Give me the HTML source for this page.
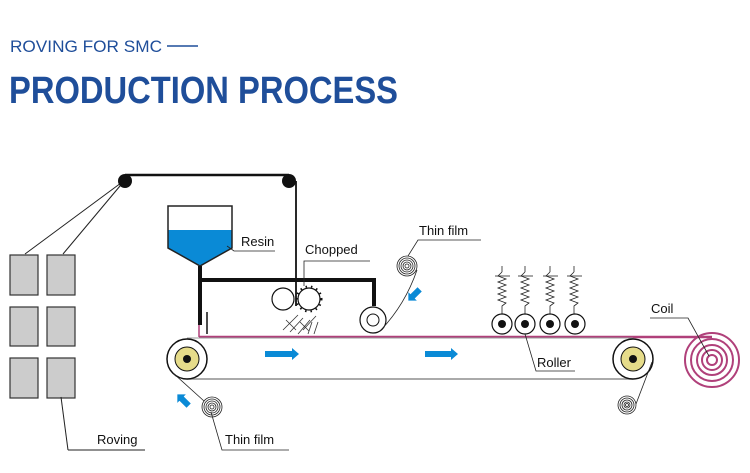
<!DOCTYPE html>
<html><head><meta charset="utf-8"><style>body{margin:0;background:#fff}svg{display:block}</style></head><body>
<svg width="750" height="473" viewBox="0 0 750 473" xmlns="http://www.w3.org/2000/svg" font-family="Liberation Sans, sans-serif">
<text x="10" y="52" font-size="17" fill="#1f4e9a" textLength="152" lengthAdjust="spacingAndGlyphs">ROVING FOR SMC</text>
<line x1="167" y1="46" x2="198" y2="46" stroke="#1f4e9a" stroke-width="1.5"/>
<text x="9" y="103" font-size="38" font-weight="bold" fill="#1f4e9a" textLength="389" lengthAdjust="spacingAndGlyphs">PRODUCTION PROCESS</text>

<g fill="#ccc" stroke="#333" stroke-width="1.2">
<rect x="10" y="255" width="28" height="40"/><rect x="47" y="255" width="28" height="40"/>
<rect x="10" y="307" width="28" height="39"/><rect x="47" y="307" width="28" height="39"/>
<rect x="10" y="358" width="28" height="40"/><rect x="47" y="358" width="28" height="40"/>
</g>
<g stroke="#222" fill="none" stroke-width="1">
<line x1="125" y1="180" x2="25" y2="254"/><line x1="125" y1="180" x2="63" y2="254"/>
<line x1="61" y1="397" x2="68" y2="450"/><line x1="68" y1="450" x2="145" y2="450"/>
</g>
<line x1="125" y1="175" x2="289" y2="175" stroke="#111" stroke-width="2.5"/>
<circle cx="125" cy="181" r="7" fill="#111"/><circle cx="289" cy="181" r="7" fill="#111"/>
<line x1="296" y1="181" x2="296" y2="306" stroke="#111" stroke-width="1.8"/>

<path d="M168,230 L232,230 L232,248 L200,266 L168,248 Z" fill="#0a8ad6"/>
<path d="M168,206 L232,206 L232,248 L200,266 L168,248 Z" fill="none" stroke="#222" stroke-width="1.5"/>
<polyline points="227,246 234,251 275,251" fill="none" stroke="#222" stroke-width="0.8"/>
<text x="241" y="246" font-size="13" fill="#111">Resin</text>

<line x1="200" y1="266" x2="200" y2="325" stroke="#111" stroke-width="4"/>
<polyline points="200,280 374,280 374,306" fill="none" stroke="#111" stroke-width="4"/>
<line x1="207" y1="312" x2="207" y2="334" stroke="#111" stroke-width="1.5"/>

<text x="305" y="254" font-size="13" fill="#111">Chopped</text>
<polyline points="370,261 304,261 304,286" fill="none" stroke="#222" stroke-width="0.8"/>
<circle cx="283" cy="299" r="11" fill="#fff" stroke="#111" stroke-width="1.2"/>
<circle cx="309" cy="299" r="11" fill="#fff" stroke="#111" stroke-width="1.2"/>
<g stroke="#111" stroke-width="2" stroke-dasharray="1.5 4" fill="none"><circle cx="309" cy="299" r="12.5"/></g>
<g stroke="#333" stroke-width="0.8">
<line x1="283" y1="330" x2="298" y2="315"/><line x1="290" y1="332" x2="303" y2="318"/><line x1="298" y1="334" x2="310" y2="320"/>
<line x1="303" y1="330" x2="316" y2="316"/><line x1="308" y1="334" x2="312" y2="322"/><line x1="314" y1="334" x2="318" y2="322"/>
<line x1="286" y1="320" x2="296" y2="330"/><line x1="300" y1="322" x2="309" y2="331"/>
</g>

<circle cx="373" cy="320" r="13" fill="#fff" stroke="#111" stroke-width="1.2"/>
<circle cx="373" cy="320" r="6" fill="none" stroke="#111"/>
<g fill="none" stroke="#222" stroke-width="0.8">
<circle cx="407" cy="266" r="10"/><circle cx="407" cy="266" r="8"/><circle cx="407" cy="266" r="6"/><circle cx="407" cy="266" r="4"/><circle cx="407" cy="266" r="2"/>
<path d="M417,270 Q405,305 380,331"/>
<polyline points="408,256 418,240 481,240"/>
</g>
<text x="419" y="235" font-size="13" fill="#111">Thin film</text>
<g transform="translate(414,295) rotate(135)"><polygon points="-8,-3 2,-3 2,-6 8,0 2,6 2,3 -8,3" fill="#0a8ad6"/></g>

<line x1="199" y1="325" x2="199" y2="337" stroke="#b0407a" stroke-width="1.5"/>
<line x1="199" y1="337" x2="712" y2="337" stroke="#b0407a" stroke-width="2.5"/>

<line x1="187" y1="338" x2="633" y2="338" stroke="#999" stroke-width="1"/>
<line x1="187" y1="379" x2="633" y2="379" stroke="#777" stroke-width="1.2"/>
<g>
<circle cx="187" cy="359" r="20" fill="#fff" stroke="#111" stroke-width="1.5"/>
<circle cx="187" cy="359" r="12" fill="#e6dc8a" stroke="#111"/>
<circle cx="187" cy="359" r="4" fill="#111"/>
<circle cx="633" cy="359" r="20" fill="#fff" stroke="#111" stroke-width="1.5"/>
<circle cx="633" cy="359" r="12" fill="#e6dc8a" stroke="#111"/>
<circle cx="633" cy="359" r="4" fill="#111"/>
</g>

<polygon points="265,351 292,351 292,348 299,354 292,360 292,357 265,357" fill="#0a8ad6"/>
<polygon points="425,351 451,351 451,348 458,354 451,360 451,357 425,357" fill="#0a8ad6"/>
<g transform="translate(183,400) rotate(-135)"><polygon points="-8,-3 2,-3 2,-6 8,0 2,6 2,3 -8,3" fill="#0a8ad6"/></g>

<g fill="none" stroke="#222" stroke-width="0.8">
<circle cx="212" cy="407" r="10"/><circle cx="212" cy="407" r="8"/><circle cx="212" cy="407" r="6"/><circle cx="212" cy="407" r="4"/><circle cx="212" cy="407" r="2"/>
<line x1="173" y1="373" x2="204" y2="401"/>
<polyline points="211,412 222,450 289,450"/>
<circle cx="627" cy="405" r="9"/><circle cx="627" cy="405" r="7"/><circle cx="627" cy="405" r="5"/><circle cx="627" cy="405" r="3"/><circle cx="627" cy="405" r="1.5"/>
<line x1="652" y1="362" x2="636" y2="404"/>
</g>
<text x="97" y="444" font-size="13" fill="#111">Roving</text>
<text x="225" y="444" font-size="13" fill="#111">Thin film</text>

<g fill="none" stroke="#222" stroke-width="0.8">
<g id="sp">
<line x1="495" y1="276" x2="510" y2="276"/>
<line x1="502" y1="266" x2="502" y2="272"/>
<polyline points="502,272 498,276 506,279 498,282 506,285 498,288 506,291 498,294 506,297 498,300 506,303 502,306 502,314"/>
</g>
<use href="#sp" x="23"/><use href="#sp" x="48"/><use href="#sp" x="72"/>
</g>
<g fill="#fff" stroke="#111" stroke-width="1.2">
<circle cx="502" cy="324" r="10"/><circle cx="525" cy="324" r="10"/><circle cx="550" cy="324" r="10"/><circle cx="575" cy="324" r="10"/>
</g>
<g fill="#111"><circle cx="502" cy="324" r="4"/><circle cx="525" cy="324" r="4"/><circle cx="550" cy="324" r="4"/><circle cx="575" cy="324" r="4"/></g>
<polyline points="525,334 536,371 575,371" fill="none" stroke="#222" stroke-width="0.8"/>
<text x="537" y="367" font-size="13" fill="#111">Roller</text>

<g fill="none" stroke="#b0407a" stroke-width="2">
<circle cx="712" cy="360" r="27"/><circle cx="712" cy="360" r="21"/><circle cx="712" cy="360" r="15"/><circle cx="712" cy="360" r="10"/><circle cx="712" cy="360" r="5"/>
</g>
<polyline points="650,318 688,318 709,356" fill="none" stroke="#222" stroke-width="0.8"/>
<text x="651" y="313" font-size="13" fill="#111">Coil</text>
</svg>
</body></html>
